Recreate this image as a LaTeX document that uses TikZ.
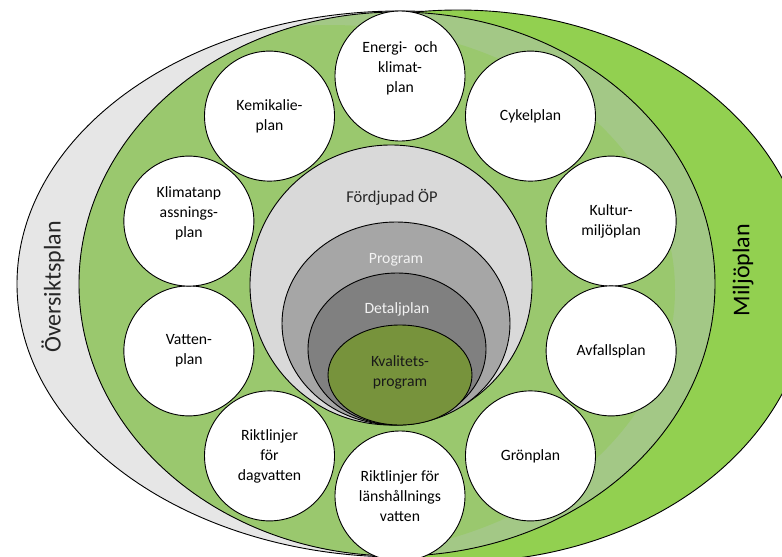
\documentclass[tikz,border=0pt]{standalone}
\usepackage{fontspec}
\setmainfont{Carlito}
\usepackage{tikz}

\definecolor{oversiktgray}{RGB}{230,230,230}
\definecolor{miljogreen}{HTML}{92D050}
\definecolor{ringgreen}{HTML}{A3C886}
\definecolor{innergreen}{HTML}{9AC86E}
\definecolor{fopgray}{HTML}{D9D9D9}
\definecolor{programgray}{HTML}{A6A6A6}
\definecolor{detaljgray}{HTML}{808080}
\definecolor{kvalitetgreen}{HTML}{77933C}

\begin{document}
\begin{tikzpicture}[x=1pt,y=-1pt,
    shapeline/.style={draw=black, line width=0.9pt},
    plancircle/.style={circle, draw=black, line width=0.9pt, fill=white, minimum size=130pt, inner sep=0pt},
    plantext/.style={align=center, text=black, font=\fontsize{15.7}{20}\selectfont},
    bigtext/.style={font=\fontsize{24}{28}\selectfont}]
    \useasboundingbox (0,0) rectangle (782,557);
    \fill[white] (0,0) rectangle (782,557);
    % outer plans
    \filldraw[shapeline, fill=oversiktgray] (400,284) ellipse [x radius=383pt, y radius=273pt];
    \filldraw[shapeline, fill=miljogreen] (458,286) ellipse [x radius=352pt, y radius=276pt];
    \fill[ringgreen] (397,284) ellipse [x radius=318pt, y radius=272pt];
    \begin{scope}
        \clip (397,284) ellipse [x radius=318pt, y radius=272pt];
        \fill[innergreen] (330,290) ellipse [x radius=345pt, y radius=265pt];
    \end{scope}
    \draw[shapeline] (397,284) ellipse [x radius=318pt, y radius=272pt];
    \node[bigtext, rotate=90, text=black!85] (oversikt) at (53,287) {Översiktsplan};
    \node[bigtext, rotate=90, text=black] (miljo) at (743,270) {Miljöplan};
    % nested plans
    \filldraw[shapeline, fill=fopgray] (391,285) ellipse [x radius=141pt, y radius=140pt];
    \filldraw[shapeline, fill=programgray] (396,323.5) ellipse [x radius=114pt, y radius=101.5pt];
    \filldraw[shapeline, fill=detaljgray] (397,349) ellipse [x radius=89pt, y radius=76pt];
    \filldraw[shapeline, fill=kvalitetgreen] (400,375) ellipse [x radius=72pt, y radius=50pt];
    \node[plantext, text=black!85, font=\fontsize{16.5}{20}\selectfont] (fop) at (392,197) {Fördjupad ÖP};
    \node[plantext, text=white!95!black] (program) at (396,260) {Program};
    \node[plantext, text=white!95!black] (detaljplan) at (397,309) {Detaljplan};
    \node[plantext, text=black!90] (kvalitet) at (400,372) {Kvalitets-\\program};
    % ring of plans
    \foreach \ang/\name/\dy/\txt in {
        90/energi/8/{Energi-\ \ och\\klimat-\\plan},
        54/cykel/0/{Cykelplan},
        18/kultur/0/{Kultur-\\miljöplan},
        -18/avfall/0/{Avfallsplan},
        -54/gron/0/{Grönplan},
        -90/lanshall/0/{Riktlinjer för\\länshållnings\\vatten},
        -126/dagvatten/0/{Riktlinjer\\för\\dagvatten},
        -162/vatten/0/{Vatten-\\plan},
        162/klimatanp/8/{Klimatanp\\assnings-\\plan},
        126/kemikalie/0/{Kemikalie-\\plan}}
    {
        \node[plancircle] (\name) at ({400+222*cos(\ang)},{286-210*sin(\ang)}) {};
        \node[plantext] (\name-text) at ([yshift=\dy pt]\name.center) {\txt};
    }
\end{tikzpicture}
\end{document}
